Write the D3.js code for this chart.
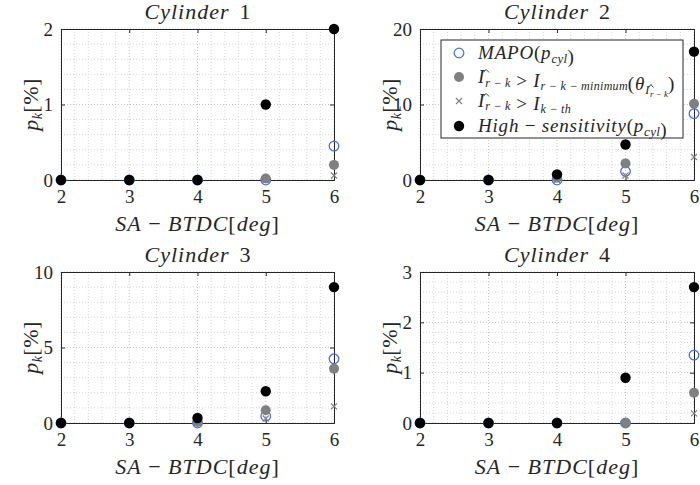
<!DOCTYPE html>
<html>
<head>
<meta charset="utf-8">
<script src="https://cdn.jsdelivr.net/npm/d3@7"></script>
<style>
  body { margin: 0; background: #fff; }
  svg text { font-family: "Liberation Serif", "Times New Roman", serif; fill: #262626; }
  .it { font-style: italic; }
</style>
</head>
<body>
<svg id="chart" width="700" height="485"></svg>
<script>
// values
var sparkAdvance = [2, 3, 4, 5, 6];
var cylinderNames = ["1", "2", "3", "4"];
var yMaxima = [2, 20, 10, 3];
var yTickValues = [[0, 1, 2], [0, 10, 20], [0, 5, 10], [0, 1, 2, 3]];
var yMinorStep = [0.2, 2, 1, 0.2];

var mapo = [
    [0, 0, 0, 0, 0.45],
    [0, 0, 0, 1.15, 8.8],
    [0, 0, 0, 0.45, 4.25],
    [0, 0, 0, 0, 1.35]
];
var ratioMinimum = [
    [0, 0, 0, 0.02, 0.2],
    [0, 0, 0.3, 2.2, 10.1],
    [0, 0, 0.07, 0.85, 3.6],
    [0, 0, 0, 0, 0.6]
];
var ratioKth = [
    [0, 0, 0, 0, 0.06],
    [0, 0, 0, 0.6, 3.05],
    [0, 0, 0, 0.3, 1.1],
    [0, 0, 0, 0, 0.19]
];
var highSensitivity = [
    [0, 0, 0, 1, 2],
    [0, 0, 0.75, 4.7, 17],
    [0, 0, 0.33, 2.1, 9],
    [0, 0, 0, 0.9, 2.7]
];

var svg = d3.select("#chart");
var blue = "#4a6fe3", grey = "#808080";
var serif = "'Liberation Serif', 'Times New Roman', serif";

var panels = [
    {left: 61, top: 29, w: 273, h: 151},
    {left: 420, top: 29, w: 274, h: 151},
    {left: 61, top: 272, w: 273, h: 151},
    {left: 420, top: 272, w: 274, h: 151}
];

function drawPanel(i) {
    var p = panels[i];
    var g = svg.append("g").attr("transform", "translate(" + p.left + "," + p.top + ")");
    var x = d3.scaleLinear().domain([2, 6]).range([0, p.w]);
    var y = d3.scaleLinear().domain([0, yMaxima[i]]).range([p.h, 0]);

    // grid, major + minor, dotted
    var xMinor = d3.range(2, 6.0001, 0.2);
    var yMinor = d3.range(0, yMaxima[i] + 1e-6, yMinorStep[i]);
    g.selectAll(".gx").data(xMinor).enter().append("line")
        .attr("x1", d => x(d)).attr("x2", d => x(d)).attr("y1", 0).attr("y2", p.h)
        .attr("stroke", d => Math.abs(d - Math.round(d)) < 1e-6 ? "#c4c4c4" : "#d6d6d6")
        .attr("stroke-dasharray", "1,2").attr("stroke-width", 1);
    g.selectAll(".gy").data(yMinor).enter().append("line")
        .attr("x1", 0).attr("x2", p.w).attr("y1", d => y(d)).attr("y2", d => y(d))
        .attr("stroke", d => yTickValues[i].some(t => Math.abs(t - d) < 1e-6) ? "#c4c4c4" : "#d6d6d6")
        .attr("stroke-dasharray", "1,2").attr("stroke-width", 1);

    // box and axes, ticks inside on all sides
    var ax = g.append("g").attr("transform", "translate(0," + p.h + ")")
        .call(d3.axisBottom(x).tickValues(sparkAdvance).tickSize(-4).tickPadding(10).tickFormat(d3.format("d")));
    var axTop = g.append("g").call(d3.axisTop(x).tickValues(sparkAdvance).tickSize(-4).tickFormat(""));
    var ay = g.append("g")
        .call(d3.axisLeft(y).tickValues(yTickValues[i]).tickSize(-4).tickPadding(8).tickFormat(d3.format("d")));
    var ayR = g.append("g").attr("transform", "translate(" + p.w + ",0)")
        .call(d3.axisRight(y).tickValues(yTickValues[i]).tickSize(-4).tickFormat(""));
    [ax, axTop, ay, ayR].forEach(function (a) {
        a.attr("font-family", serif);
        a.selectAll("path").attr("stroke", "#262626").attr("stroke-width", 1);
        a.selectAll("line").attr("stroke", "#262626");
        a.selectAll("text").style("font-size", "19px").attr("fill", "#262626");
    });

    // markers, in legend order
    var pts = sparkAdvance.map((d, j) => j);
    g.selectAll(".mapo").data(pts).enter().append("circle")
        .attr("cx", j => x(sparkAdvance[j])).attr("cy", j => y(mapo[i][j])).attr("r", 4.8)
        .attr("fill", "none").attr("stroke", blue).attr("stroke-width", 1.3);
    g.selectAll(".rmin").data(pts).enter().append("circle")
        .attr("cx", j => x(sparkAdvance[j])).attr("cy", j => y(ratioMinimum[i][j])).attr("r", 5)
        .attr("fill", grey);
    g.selectAll(".kth").data(pts).enter().append("path")
        .attr("transform", j => "translate(" + x(sparkAdvance[j]) + "," + y(ratioKth[i][j]) + ")")
        .attr("d", "M-3,-3L3,3M-3,3L3,-3").attr("stroke", grey).attr("stroke-width", 1.2);
    g.selectAll(".high").data(pts).enter().append("circle")
        .attr("cx", j => x(sparkAdvance[j])).attr("cy", j => y(highSensitivity[i][j])).attr("r", 5.2)
        .attr("fill", "#000");

    // title
    var t = g.append("text").attr("x", p.w / 2).attr("y", -10).attr("text-anchor", "middle")
        .style("font-size", "22px");
    t.append("tspan").attr("class", "it").style("letter-spacing", "1px").text("Cylinder");
    t.append("tspan").attr("dx", 10).text(cylinderNames[i]);

    // x label
    var xl = g.append("text").attr("x", p.w / 2).attr("y", p.h + 51).attr("text-anchor", "middle")
        .style("font-size", "22px").style("letter-spacing", "1px");
    xl.append("tspan").attr("class", "it").text("SA");
    xl.append("tspan").text(" − ");
    xl.append("tspan").attr("class", "it").text("BTDC");
    xl.append("tspan").text("[");
    xl.append("tspan").attr("class", "it").text("deg");
    xl.append("tspan").text("]");

    // y label
    var yl = g.append("text").attr("transform", "translate(-23," + (p.h / 2) + ") rotate(-90)")
        .attr("text-anchor", "middle").style("font-size", "22px").style("letter-spacing", "0.5px");
    yl.append("tspan").attr("class", "it").text("p");
    yl.append("tspan").attr("class", "it").attr("dy", 4).style("font-size", "14px").text("k");
    yl.append("tspan").attr("dy", -4).text("[%]");

    return g;
}

panels.forEach(function (p, i) { drawPanel(i); });

// legend inside cylinder 2
var lg = svg.append("g").attr("transform", "translate(441,40)");
lg.append("rect").attr("width", 242).attr("height", 98).attr("fill", "#fff")
    .attr("stroke", "#262626").attr("stroke-width", 1);
var rowY = [13, 37, 61, 86];
lg.append("circle").attr("cx", 18).attr("cy", rowY[0]).attr("r", 4.8)
    .attr("fill", "none").attr("stroke", blue).attr("stroke-width", 1.3);
lg.append("circle").attr("cx", 18).attr("cy", rowY[1]).attr("r", 5).attr("fill", grey);
lg.append("path").attr("transform", "translate(18," + rowY[2] + ")")
    .attr("d", "M-3,-3L3,3M-3,3L3,-3").attr("stroke", grey).attr("stroke-width", 1.2);
lg.append("circle").attr("cx", 18).attr("cy", rowY[3]).attr("r", 5.2).attr("fill", "#000");

var hats = [];
function sub(txt, s, size, drop) {
    var d = drop || 3.5;
    var ts = txt.append("tspan").attr("dy", d).style("font-size", (size || 12) + "px")
        .style("letter-spacing", "0.3px").attr("class", "it").text(s);
    txt.append("tspan").attr("dy", -d).text("");
    return ts;
}
function legendText(row) {
    return lg.append("text").attr("x", 37).attr("y", rowY[row] + 6)
        .style("font-size", "19px").style("letter-spacing", "0.8px");
}
function hatOver(ts, lift, w) {
    hats.push({node: ts.node(), lift: lift, w: w});
}

var l1 = legendText(0);
l1.append("tspan").attr("class", "it").text("MAPO");
l1.append("tspan").text("(");
l1.append("tspan").attr("class", "it").text("p");
sub(l1, "cyl", 13);
l1.append("tspan").text(")");

var l2 = legendText(1);
l2.append("tspan").attr("class", "it").text("I");
hatOver(sub(l2, "r − k", 12), 15.5, 3);
l2.append("tspan").text(" > ");
l2.append("tspan").attr("class", "it").text("I");
sub(l2, "r − k − minimum", 12);
l2.append("tspan").text("(");
l2.append("tspan").attr("class", "it").text("θ");
l2.append("tspan").attr("dy", 4).style("font-size", "12px").attr("class", "it").text("I");
var thSub = l2.append("tspan").attr("dy", 3).style("font-size", "9px")
    .style("letter-spacing", "0px").attr("class", "it").text("r − k");
hatOver(thSub, 11, 2.5);
l2.append("tspan").attr("dy", -7).text(")");

var l3 = legendText(2);
l3.append("tspan").attr("class", "it").text("I");
hatOver(sub(l3, "r − k", 12, 3), 15, 3);
l3.append("tspan").text(" > ");
l3.append("tspan").attr("class", "it").text("I");
sub(l3, "k − th", 12, 3);

var l4 = legendText(3);
l4.append("tspan").attr("class", "it").text("High");
l4.append("tspan").text(" − ");
l4.append("tspan").attr("class", "it").text("sensitivity");
l4.append("tspan").text("(");
l4.append("tspan").attr("class", "it").text("p");
sub(l4, "cyl", 13);
l4.append("tspan").text(")");

// little hat accents drawn as paths above the subscript start
hats.forEach(function (h) {
    var pos = h.node.getStartPositionOfChar(0);
    lg.append("path")
        .attr("transform", "translate(" + (pos.x + 1) + "," + (pos.y - h.lift) + ")")
        .attr("d", "M" + (-h.w) + ",1.5L0,-1.5L" + h.w + ",1.5")
        .attr("fill", "none").attr("stroke", "#262626").attr("stroke-width", 0.9);
});
</script>
</body>
</html>
